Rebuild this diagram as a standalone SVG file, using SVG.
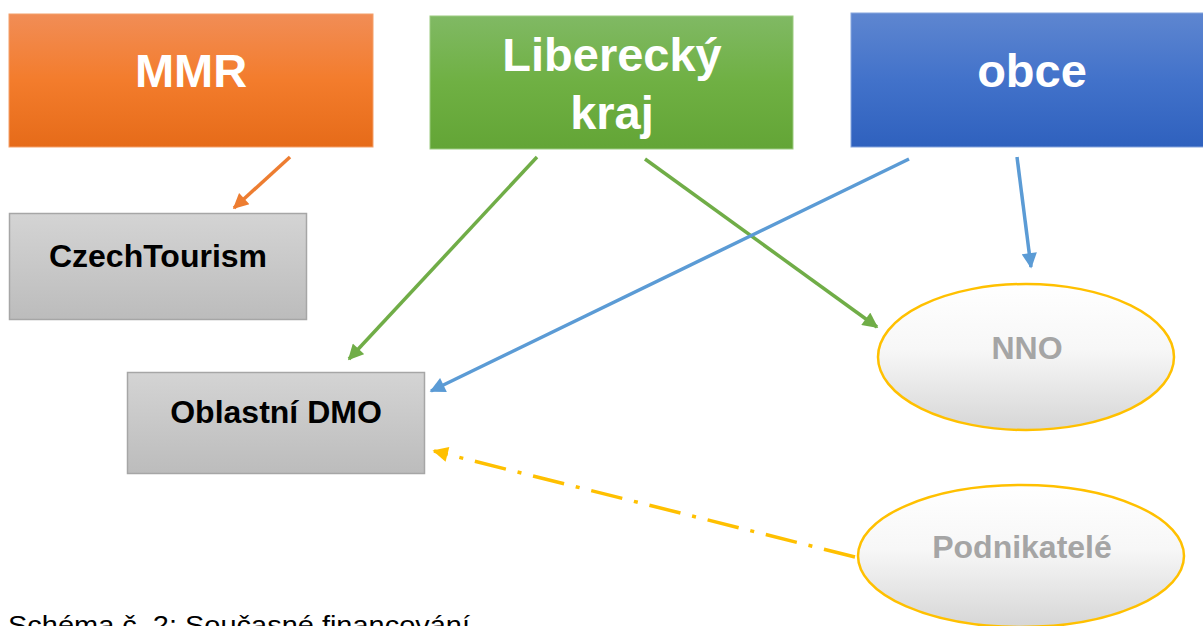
<svg xmlns="http://www.w3.org/2000/svg" width="1203" height="626" viewBox="0 0 1203 626">
<defs>
<linearGradient id="gOrange" x1="0" y1="0" x2="0" y2="1"><stop offset="0" stop-color="#F18D56"/><stop offset="0.5" stop-color="#F37C2C"/><stop offset="1" stop-color="#E66B19"/></linearGradient>
<linearGradient id="gGreen" x1="0" y1="0" x2="0" y2="1"><stop offset="0" stop-color="#80B964"/><stop offset="0.5" stop-color="#6FB043"/><stop offset="1" stop-color="#63A536"/></linearGradient>
<linearGradient id="gBlue" x1="0" y1="0" x2="0" y2="1"><stop offset="0" stop-color="#5E86D0"/><stop offset="0.5" stop-color="#4272CA"/><stop offset="1" stop-color="#2F61BE"/></linearGradient>
<linearGradient id="gGray" x1="0" y1="0" x2="0" y2="1"><stop offset="0" stop-color="#D4D4D4"/><stop offset="1" stop-color="#BCBCBC"/></linearGradient>
<linearGradient id="gEll" x1="0" y1="0" x2="0" y2="1"><stop offset="0" stop-color="#FFFFFF"/><stop offset="0.45" stop-color="#F7F7F7"/><stop offset="1" stop-color="#D6D6D6"/></linearGradient>
<marker id="aOrange" viewBox="0 0 10 10" refX="9" refY="5" markerWidth="4.8" markerHeight="4.4" markerUnits="strokeWidth" orient="auto"><path d="M0,0 L10,5 L0,10 z" fill="#ED7D31"/></marker>
<marker id="aGreen" viewBox="0 0 10 10" refX="9" refY="5" markerWidth="4.8" markerHeight="4.4" markerUnits="strokeWidth" orient="auto"><path d="M0,0 L10,5 L0,10 z" fill="#70AD47"/></marker>
<marker id="aBlue" viewBox="0 0 10 10" refX="9" refY="5" markerWidth="4.8" markerHeight="4.4" markerUnits="strokeWidth" orient="auto"><path d="M0,0 L10,5 L0,10 z" fill="#5B9BD5"/></marker>
<marker id="aYellow" viewBox="0 0 10 10" refX="9" refY="5" markerWidth="4.8" markerHeight="4.4" markerUnits="strokeWidth" orient="auto"><path d="M0,0 L10,5 L0,10 z" fill="#FFC000"/></marker>
</defs>
<style>
.bigt{font-family:"Liberation Sans",Arial,sans-serif;font-weight:bold;font-size:47px;fill:#FFFFFF;text-anchor:middle}
.boxt{font-family:"Liberation Sans",Arial,sans-serif;font-weight:bold;font-size:32px;fill:#000000;text-anchor:middle}
.ellt{font-family:"Liberation Sans",Arial,sans-serif;font-weight:bold;font-size:32px;fill:#A5A5A5;text-anchor:middle}
.gbox{fill:url(#gGray);stroke:#A6A6A6;stroke-width:1.5}
.ell{fill:url(#gEll);stroke:#FFC000;stroke-width:2.5}
.conn{fill:none;stroke-width:3.5}
.cap{font-family:"Liberation Sans",Arial,sans-serif;font-size:26px;fill:#000000}
</style>
<g id="node-mmr">
<rect x="9" y="14" width="364" height="133" fill="url(#gOrange)" stroke="#F4A06B" stroke-width="1"/>
<text class="bigt" x="191" y="87">MMR</text>
</g>
<g id="node-liberecky-kraj">
<rect x="430" y="16" width="363" height="133" fill="url(#gGreen)" stroke="#9CCB80" stroke-width="1"/>
<text class="bigt" x="612" y="71">Liberecký</text>
<text class="bigt" x="612" y="129">kraj</text>
</g>
<g id="node-obce">
<rect x="851" y="13" width="360" height="134" fill="url(#gBlue)" stroke="#86A5DD" stroke-width="1"/>
<text class="bigt" x="1032" y="87">obce</text>
</g>
<g id="node-czechtourism">
<rect class="gbox" x="9.5" y="213.5" width="297" height="106"/>
<text class="boxt" x="158" y="267">CzechTourism</text>
</g>
<g id="node-oblastni-dmo">
<rect class="gbox" x="127.5" y="372.5" width="297" height="101"/>
<text class="boxt" x="276" y="423">Oblastní DMO</text>
</g>
<g id="node-nno">
<ellipse class="ell" cx="1026" cy="357" rx="148" ry="73"/>
<text class="ellt" x="1027" y="359">NNO</text>
</g>
<g id="node-podnikatele">
<ellipse class="ell" cx="1021" cy="556" rx="163" ry="71"/>
<text class="ellt" x="1022" y="558">Podnikatelé</text>
</g>
<g id="connectors">
<line class="conn" x1="290" y1="157" x2="234" y2="208" stroke="#ED7D31" marker-end="url(#aOrange)"/>
<line class="conn" x1="537" y1="157" x2="349" y2="359" stroke="#70AD47" marker-end="url(#aGreen)"/>
<line class="conn" x1="645" y1="159" x2="877" y2="327" stroke="#70AD47" marker-end="url(#aGreen)"/>
<line class="conn" x1="909" y1="159" x2="431" y2="391" stroke="#5B9BD5" marker-end="url(#aBlue)"/>
<line class="conn" x1="1017" y1="157" x2="1031" y2="267" stroke="#5B9BD5" marker-end="url(#aBlue)"/>
<line class="conn" x1="855" y1="557" x2="434" y2="451" stroke="#FFC000" stroke-dasharray="32 12 4 12" marker-end="url(#aYellow)"/>
</g>
<text class="cap" x="8" y="634" textLength="462" lengthAdjust="spacingAndGlyphs">Schéma č. 2: Současné financování</text>
</svg>
